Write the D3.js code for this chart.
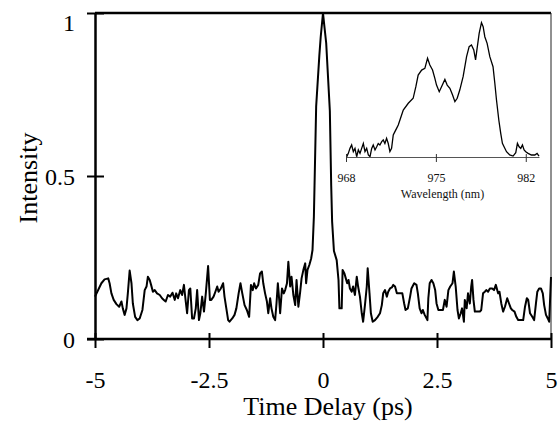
<!DOCTYPE html>
<html>
<head>
<meta charset="utf-8">
<script src="https://cdn.jsdelivr.net/npm/d3@7"></script>
<style>
  body { margin: 0; background: #fff; }
  svg { display: block; font-family: "Liberation Serif", "Times New Roman", serif; }
</style>
</head>
<body>
<script>
// main trace: autocorrelation vs delay
const timeDelay = [
  -5.00,-4.86,-4.79,-4.71,-4.68,-4.64,-4.59,-4.53,-4.47,-4.42,
  -4.39,-4.35,-4.31,-4.28,-4.24,-4.20,-4.17,-4.12,-4.07,-4.02,
  -3.96,-3.91,-3.87,-3.84,-3.80,-3.77,-3.73,-3.69,-3.64,-3.58,
  -3.53,-3.49,-3.45,-3.40,-3.35,-3.30,-3.25,-3.22,-3.18,-3.13,
  -3.09,-3.05,-3.01,-2.98,-2.94,-2.91,-2.87,-2.83,-2.79,-2.76,
  -2.72,-2.69,-2.65,-2.61,-2.57,-2.52,-2.48,-2.45,-2.40,-2.36,
  -2.32,-2.29,-2.24,-2.19,-2.16,-2.12,-2.08,-2.05,-1.99,-1.94,
  -1.90,-1.85,-1.81,-1.77,-1.72,-1.67,
  -1.62,-1.58,-1.54,-1.51,-1.47,-1.42,-1.38,-1.34,-1.31,-1.27,
  -1.23,-1.20,-1.16,-1.13,-1.09,-1.05,-1.02,-0.99,-0.96,-0.94,
  -0.90,-0.86,-0.83,-0.79,-0.76,-0.72,-0.69,-0.65,-0.61,-0.58,
  -0.54,-0.50,-0.47,-0.43,-0.39,-0.37,-0.34,-0.30,-0.26,-0.23,
  -0.20,-0.15,-0.08,-0.05,0.00,0.03,0.07,0.15,0.18,0.20,0.24,
  0.30,0.34,0.36,0.41,0.43,0.47,0.50,0.53,0.56,0.59,
  0.63,0.66,0.70,0.74,0.77,0.81,0.85,0.88,0.92,0.96,
  0.98,1.02,1.05,1.09,1.14,1.20,1.25,1.29,1.32,1.36,
  1.40,1.43,1.47,1.51,1.54,1.58,1.62,
  1.67,1.74,1.78,1.81,1.86,1.91,1.94,2.00,2.05,2.08,
  2.12,2.16,2.19,2.23,2.29,2.31,2.34,2.38,2.42,2.46,
  2.49,2.53,2.58,2.63,2.67,2.71,2.75,2.79,2.84,2.87,
  2.91,2.95,2.98,3.02,3.05,3.09,3.11,3.15,3.18,3.22,
  3.25,3.27,3.30,3.33,3.38,3.44,3.47,3.51,3.55,3.58,
  3.62,3.66,3.71,3.75,3.79,3.84,3.87,3.91,3.95,3.99,
  4.04,4.08,4.12,4.15,4.20,4.24,4.28,4.34,4.39,4.43,
  4.47,4.50,4.54,4.59,4.63,4.67,4.70,4.74,4.78,4.82,
  4.85,4.89,4.93,4.96,5.00
];
const intensity = [
  0.130,0.171,0.183,0.186,0.171,0.140,0.120,0.107,0.099,0.115,
  0.094,0.074,0.094,0.140,0.210,0.171,0.109,0.068,0.058,0.063,
  0.089,0.150,0.161,0.191,0.181,0.166,0.145,0.150,0.140,0.135,
  0.125,0.120,0.115,0.135,0.130,0.142,0.120,0.140,0.125,0.150,
  0.135,0.166,0.115,0.079,0.150,0.155,0.063,0.063,0.094,0.150,
  0.058,0.079,0.130,0.084,0.140,0.224,0.120,0.120,0.130,0.145,
  0.161,0.145,0.155,0.171,0.130,0.094,0.058,0.053,0.063,0.074,
  0.094,0.140,0.171,0.140,0.104,0.089,
  0.068,0.166,0.150,0.171,0.155,0.166,0.201,0.207,0.171,0.140,
  0.115,0.079,0.125,0.094,0.068,0.058,0.109,0.171,0.120,0.079,
  0.155,0.140,0.150,0.171,0.237,0.161,0.191,0.135,0.104,0.181,
  0.099,0.145,0.186,0.212,0.232,0.171,0.212,0.227,0.247,0.273,
  0.375,0.713,0.870,0.927,1.000,0.960,0.908,0.700,0.470,0.360,0.270,
  0.242,0.181,0.094,0.094,0.212,0.201,0.186,0.171,0.181,0.155,
  0.145,0.161,0.135,0.191,0.161,0.130,0.079,0.053,0.104,0.161,
  0.217,0.140,0.079,0.053,0.058,0.068,0.079,0.104,0.140,0.150,
  0.130,0.145,0.155,0.158,0.166,0.161,0.140,
  0.140,0.140,0.109,0.089,0.094,0.130,0.155,0.171,0.166,0.140,
  0.094,0.079,0.089,0.074,0.058,0.125,0.171,0.181,0.171,0.150,
  0.109,0.089,0.089,0.089,0.120,0.099,0.150,0.161,0.171,0.207,
  0.161,0.089,0.063,0.079,0.094,0.053,0.120,0.094,0.140,0.109,
  0.161,0.181,0.120,0.084,0.084,0.084,0.089,0.140,0.145,0.150,
  0.145,0.155,0.155,0.150,0.166,0.140,0.145,0.109,0.084,0.099,
  0.125,0.109,0.094,0.089,0.084,0.068,0.058,0.058,0.058,0.099,
  0.125,0.120,0.079,0.068,0.058,0.109,0.145,0.155,0.155,0.140,
  0.104,0.074,0.063,0.053,0.190
];
const xTicks = [-5, -2.5, 0, 2.5, 5];
const xTickLabels = ["-5", "-2.5", "0", "2.5", "5"];
const yTicks = [0, 0.5, 1];
const yTickLabels = ["0", "0.5", "1"];

// inset: spectrum
const wavelength = [
  968.05,968.18,968.31,968.44,968.57,968.70,968.83,968.96,969.09,969.22,
  969.35,969.48,969.61,969.74,969.87,970.00,970.12,970.26,970.39,970.51,
  970.64,970.78,970.90,971.03,971.16,971.29,971.42,971.55,971.68,971.81,
  971.94,972.07,
  972.20,972.46,972.85,973.23,973.44,973.62,973.89,974.14,974.35,974.53,
  974.74,974.92,975.05,975.26,975.44,975.70,975.88,976.09,976.30,976.48,
  976.66,976.86,977.12,977.39,977.59,977.77,977.95,978.09,978.21,978.37,
  978.55,978.68,978.81,978.99,979.20,979.45,979.59,979.72,979.90,980.05,
  980.18,980.31,980.50,980.75,981.01,981.22,981.35,981.48,981.61,981.74,
  981.87,982.00,982.18,982.44,982.70,982.88,983.03
];
const spectrum = [
  0.000,0.027,0.064,0.089,0.040,0.064,0.002,0.052,0.027,0.064,
  0.100,0.040,0.064,0.015,0.002,0.064,0.089,0.052,0.076,0.100,
  0.089,0.114,0.126,0.100,0.138,0.100,0.040,0.064,0.163,0.188,
  0.212,0.237,
  0.274,0.348,0.398,0.435,0.521,0.607,0.644,0.657,0.731,0.681,
  0.644,0.583,0.533,0.484,0.521,0.575,0.533,0.509,0.459,0.410,
  0.435,0.496,0.595,0.743,0.817,0.830,0.793,0.719,0.805,0.916,
  0.995,0.965,0.891,0.842,0.743,0.669,0.546,0.422,0.274,0.175,
  0.101,0.076,0.039,0.015,0.007,0.032,0.101,0.076,0.064,0.089,
  0.052,0.039,0.027,0.015,0.015,0.027,0.007
];
const insetTicks = [968, 975, 982];
const insetTickLabels = ["968", "975", "982"];

const w = 558;
const h = 425;
const margin = { top: 13, right: 7, bottom: 86, left: 95 };

const svg = d3.select("body")
  .append("svg")
  .attr("width", w)
  .attr("height", h);

const xScale = d3.scaleLinear()
  .domain([-5, 5])
  .range([margin.left, w - margin.right]);

const yScale = d3.scaleLinear()
  .domain([0, 1])
  .range([h - margin.bottom, margin.top]);

// frame: thick top, thin right
svg.append("line")
  .attr("x1", margin.left).attr("x2", w - margin.right)
  .attr("y1", yScale(1)).attr("y2", yScale(1))
  .attr("stroke", "#000").attr("stroke-width", 2.5);
svg.append("line")
  .attr("x1", xScale(5)).attr("x2", xScale(5))
  .attr("y1", yScale(1)).attr("y2", yScale(0))
  .attr("stroke", "#222").attr("stroke-width", 1);

// data line
const line = d3.line()
  .x((d) => xScale(d[0]))
  .y((d) => yScale(d[1]));

svg.append("path")
  .datum(d3.zip(timeDelay, intensity))
  .attr("fill", "none")
  .attr("stroke", "#000")
  .attr("stroke-width", 2)
  .attr("stroke-linejoin", "round")
  .attr("d", line);

// axes
const xAxis = d3.axisBottom(xScale)
  .tickValues(xTicks)
  .tickFormat((d, i) => xTickLabels[i])
  .tickSizeOuter(0);

const gx = svg.append("g")
  .attr("transform", `translate(0, ${yScale(0)})`)
  .call(xAxis);
gx.select(".domain").attr("stroke-width", 2.5).attr("d", `M${margin.left - 8},0H${w - margin.right}`);
gx.selectAll(".tick line").attr("y1", -6).attr("y2", 9).attr("stroke-width", 2);
gx.selectAll(".tick text")
  .attr("y", 49).attr("dy", 0)
  .attr("font-size", 24)
  .attr("font-family", "Liberation Serif, Times New Roman, serif")
  .attr("fill", "#000");

const yAxis = d3.axisLeft(yScale)
  .tickValues(yTicks)
  .tickFormat((d, i) => yTickLabels[i])
  .tickSizeOuter(0);

const gy = svg.append("g")
  .attr("transform", `translate(${margin.left}, 0)`)
  .call(yAxis);
gy.select(".domain").attr("stroke-width", 2.5);
gy.selectAll(".tick line").attr("x1", -8).attr("x2", 9).attr("stroke-width", 2);
gy.selectAll(".tick text")
  .attr("x", -20)
  .attr("dy", (d) => (d === 1 ? "0.72em" : "0.34em"))
  .attr("font-size", 24)
  .attr("font-family", "Liberation Serif, Times New Roman, serif")
  .attr("fill", "#000");

// axis titles
svg.append("text")
  .attr("x", 328)
  .attr("y", 415)
  .attr("text-anchor", "middle")
  .attr("font-size", 26)
  .text("Time Delay (ps)");

svg.append("text")
  .attr("transform", `translate(37, ${(yScale(0) + yScale(1)) / 2 + 2}) rotate(-90)`)
  .attr("text-anchor", "middle")
  .attr("font-size", 26)
  .text("Intensity");

// inset spectrum
const ix = d3.scaleLinear()
  .domain([968, 983.03])
  .range([346, 539]);
const iy = d3.scaleLinear()
  .domain([0, 1])
  .range([157, 22]);

const inset = svg.append("g");

inset.append("path")
  .datum(d3.zip(wavelength, spectrum))
  .attr("fill", "none")
  .attr("stroke", "#000")
  .attr("stroke-width", 1.3)
  .attr("d", d3.line().x((d) => ix(d[0])).y((d) => iy(d[1])));

const insetAxis = d3.axisBottom(ix)
  .tickValues(insetTicks)
  .tickFormat((d, i) => insetTickLabels[i])
  .tickSizeOuter(0);

const gi = inset.append("g")
  .attr("transform", `translate(0, ${iy(0)})`)
  .call(insetAxis);
gi.select(".domain").attr("stroke", "#555").attr("stroke-width", 1);
gi.selectAll(".tick line").attr("y1", -3).attr("y2", 5).attr("stroke", "#333");
gi.selectAll(".tick text")
  .attr("y", 25).attr("dy", 0)
  .attr("font-size", 12)
  .attr("font-family", "Liberation Serif, Times New Roman, serif")
  .attr("fill", "#111");

inset.append("text")
  .attr("x", (ix(968) + ix(983.03)) / 2)
  .attr("y", 198)
  .attr("text-anchor", "middle")
  .attr("font-size", 12)
  .attr("fill", "#111")
  .text("Wavelength (nm)");
</script>
</body>
</html>
